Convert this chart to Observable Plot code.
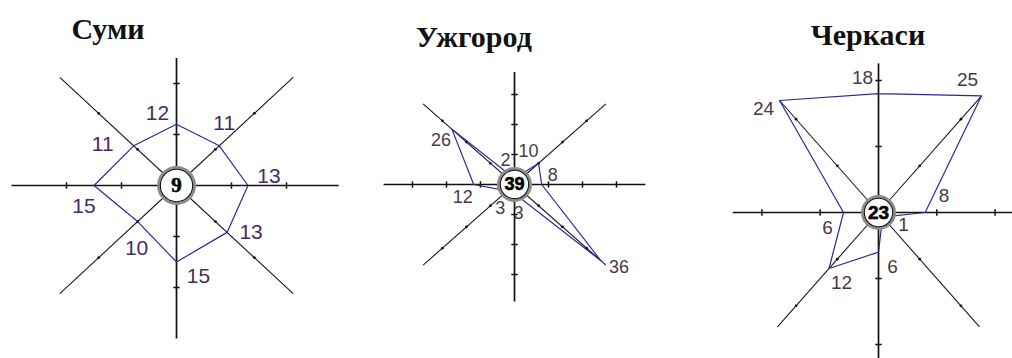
<!DOCTYPE html>
<html>
<head>
<meta charset="utf-8">
<script src="https://cdn.jsdelivr.net/npm/d3@7"></script>
<script src="https://cdn.jsdelivr.net/npm/@observablehq/plot@0.6"></script>
<style>
  html, body { margin: 0; padding: 0; background: #fff; }
  #wrap { position: relative; width: 1012px; height: 358px; overflow: hidden; }
  .panel { position: absolute; top: 0; }
  .title { position: absolute; font-family: "Liberation Serif", "DejaVu Serif", serif; font-weight: bold;
           font-size: 30px; line-height: 1; transform: translateX(-50%); white-space: nowrap; color: #111; }
</style>
</head>
<body>
<div id="wrap"></div>
<script>
// ---- data ----
const directions = ["Пн", "ПнСх", "Сх", "ПдСх", "Пд", "ПдЗх", "Зх", "ПнЗх"];
const cities = ["Суми", "Ужгород", "Черкаси"];
const sumyValues = [12, 11, 13, 13, 15, 10, 15, 11];
const sumyCalm = 9;
const uzhhorodValues = [2, 10, 8, 36, 3, 3, 12, 26];
const uzhhorodCalm = 39;
const cherkasyValues = [18, 25, 8, 1, 6, 12, 6, 24];
const cherkasyCalm = 23;
const tickValues = [10, 20, 30];

// ---- layout / style per panel ----
const panels = [
  { title: cities[0], values: sumyValues, calm: sumyCalm,
    left: 0, width: 340, cx: 176, cy: 185, kx: 5.5, ky: 5.1,
    axisLen: [25, 30, 29.5, 30, 30, 30, 30, 30], circleR: 18,
    labelDx: [-19, 5, 21, 24, 22, -1, -10, -31], labelDy: [-11, -23, -9, 0, 14, 27, 21, -2],
    labelSize: 21, labelColor: "#4a2a66", calmSize: 21, calmFont: "Liberation Serif",
    titleX: 108, titleTop: 14 },
  { title: cities[1], values: uzhhorodValues, calm: uzhhorodCalm,
    left: 340, width: 340, cx: 174, cy: 184, kx: 3.4, ky: 3.0,
    axisLen: [37.5, 38, 38.5, 38, 39, 38, 38.5, 38], circleR: 16,
    labelDx: [-9, -10, 11, 18, 4, -7, -11, -11], labelDy: [-18, -12, -9, 6, 20, 17, 13, 11],
    labelSize: 18, labelColor: "#4a3a48", calmSize: 18, calmFont: "Liberation Sans",
    titleX: 474, titleTop: 22 },
  { title: cities[2], values: cherkasyValues, calm: cherkasyCalm,
    left: 680, width: 332, cx: 198, cy: 212, kx: 5.83, ky: 6.6,
    axisLen: [22.6, 25, 25, 24.5, 25, 24.5, 25, 24], circleR: 16,
    labelDx: [-16, -14, 19, 21, 14, 12.5, -16, -16], labelDy: [-16, -16, -17, 8, 15, 14, 15, 8],
    labelSize: 19, labelColor: "#4a3650", calmSize: 19, calmFont: "Liberation Sans",
    titleX: 868, titleTop: 20 }
];

const H = 358;
const wrap = document.getElementById("wrap");

function rad(i) { return i * Math.PI / 4; }

function makePanel(p) {
  const W = p.width;
  const rose = p.values.map((v, i) => ({
    dir: directions[i], v,
    x: v * Math.sin(rad(i)), y: v * Math.cos(rad(i)),
    lx: v * Math.sin(rad(i)) + p.labelDx[i] / p.kx,
    ly: v * Math.cos(rad(i)) - p.labelDy[i] / p.ky
  }));
  const closed = [...rose, rose[0]];
  const axes = directions.map((d, i) => ({
    i, main: i % 2 === 0,
    x2: p.axisLen[i] * Math.sin(rad(i)), y2: p.axisLen[i] * Math.cos(rad(i))
  }));
  const h = 3.2;
  const mainTicks = [], diagTicks = [];
  directions.forEach((d, i) => {
    const s = Math.sin(rad(i)), c = Math.cos(rad(i));
    tickValues.filter(t => t < p.axisLen[i] - 1).forEach(t => {
      if (i % 2 === 0) {
        mainTicks.push({
          x1: t * s - c * h / p.kx, x2: t * s + c * h / p.kx,
          y1: t * c + s * h / p.ky, y2: t * c - s * h / p.ky
        });
      } else {
        diagTicks.push({ x: t * s, y: t * c });
      }
    });
  });

  return Plot.plot({
    width: W, height: H,
    marginLeft: 0, marginRight: 0, marginTop: 0, marginBottom: 0,
    style: { background: "transparent", overflow: "visible" },
    x: { type: "linear", domain: [-p.cx / p.kx, (W - p.cx) / p.kx], range: [0, W], axis: null },
    y: { type: "linear", domain: [-(H - p.cy) / p.ky, p.cy / p.ky], range: [H, 0], axis: null },
    marks: [
      Plot.link(axes.filter(a => !a.main), { x1: 0, y1: 0, x2: "x2", y2: "y2", stroke: "#1a1a1a", strokeWidth: 1.1 }),
      Plot.link(axes.filter(a => a.main), { x1: 0, y1: 0, x2: "x2", y2: "y2", stroke: "#111", strokeWidth: 1.7 }),
      Plot.link(mainTicks, { x1: "x1", y1: "y1", x2: "x2", y2: "y2", stroke: "#111", strokeWidth: 1.5 }),
      Plot.dot(diagTicks, { x: "x", y: "y", r: 1.4, fill: "#111" }),
      Plot.line(closed, { x: "x", y: "y", stroke: "#2a2a9c", strokeWidth: 1.2, curve: "linear" }),
      Plot.dot([p.calm], { x: 0, y: 0, r: p.circleR, fill: "white", stroke: "#8c8c8c", strokeWidth: 3 }),
      Plot.dot([p.calm], { x: 0, y: 0, r: p.circleR - 1.8, fill: "white", stroke: "#111", strokeWidth: 1.1 }),
      Plot.text([p.calm], { x: 0, y: 0, text: d => String(d), fontSize: p.calmSize, fontWeight: "bold",
        fontFamily: p.calmFont, fill: "#000", stroke: "#000", strokeWidth: 0.6, textAnchor: "middle", lineAnchor: "middle" }),
      Plot.text(rose, { x: "lx", y: "ly", text: d => String(d.v), fontSize: p.labelSize,
        fontFamily: "Liberation Sans, Arial, sans-serif", fill: p.labelColor, textAnchor: "middle", lineAnchor: "middle" })
    ]
  });
}

panels.forEach(p => {
  const div = document.createElement("div");
  div.className = "panel";
  div.style.left = p.left + "px";
  div.appendChild(makePanel(p));
  wrap.appendChild(div);
  const t = document.createElement("div");
  t.className = "title";
  t.style.left = p.titleX + "px";
  t.style.top = p.titleTop + "px";
  t.textContent = p.title;
  wrap.appendChild(t);
});
</script>
</body>
</html>
